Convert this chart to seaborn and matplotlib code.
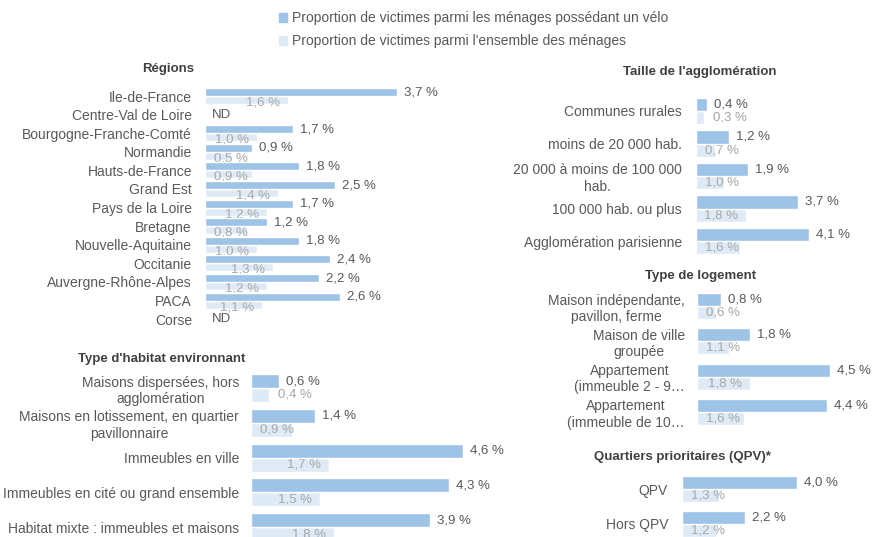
import numpy as np
import pandas as pd
import seaborn as sns
import matplotlib.pyplot as plt
from matplotlib.patches import Patch

sns.set_theme(style="white")
plt.rcParams['font.family'] = ['Liberation Sans', 'DejaVu Sans']

# données
series = ["Proportion de victimes parmi les ménages possédant un vélo",
          "Proportion de victimes parmi l'ensemble des ménages"]

regions = ["Ile-de-France", "Centre-Val de Loire", "Bourgogne-Franche-Comté", "Normandie",
           "Hauts-de-France", "Grand Est", "Pays de la Loire", "Bretagne", "Nouvelle-Aquitaine",
           "Occitanie", "Auvergne-Rhône-Alpes", "PACA", "Corse"]
reg_velo = [3.7, np.nan, 1.7, 0.9, 1.8, 2.5, 1.7, 1.2, 1.8, 2.4, 2.2, 2.6, np.nan]
reg_all = [1.6, np.nan, 1.0, 0.5, 0.9, 1.4, 1.2, 0.8, 1.0, 1.3, 1.2, 1.1, np.nan]

habitat = ["Maisons dispersées, hors\nagglomération",
           "Maisons en lotissement, en quartier\npavillonnaire",
           "Immeubles en ville", "Immeubles en cité ou grand ensemble",
           "Habitat mixte : immeubles et maisons"]
hab_velo = [0.6, 1.4, 4.6, 4.3, 3.9]
hab_all = [0.4, 0.9, 1.7, 1.5, 1.8]

taille = ["Communes rurales", "moins de 20 000 hab.", "20 000 à moins de 100 000\nhab.",
          "100 000 hab. ou plus", "Agglomération parisienne"]
taille_velo = [0.4, 1.2, 1.9, 3.7, 4.1]
taille_all = [0.3, 0.7, 1.0, 1.8, 1.6]

logement = ["Maison indépendante,\npavillon, ferme", "Maison de ville\ngroupée",
            "Appartement\n(immeuble 2 - 9…", "Appartement\n(immeuble de 10…"]
log_velo = [0.8, 1.8, 4.5, 4.4]
log_all = [0.6, 1.1, 1.8, 1.6]

qpv = ["QPV", "Hors QPV"]
qpv_velo = [4.0, 2.2]
qpv_all = [1.3, 1.2]

# style
dark = "#9DC3E6"
light = "#DEEBF7"
txt = "#595959"
txt_light = "#A6A6A6"
W, H = 873, 537

fig = plt.figure(figsize=(W / 100, H / 100), dpi=100)


def fmt(v):
    return f"{v:.1f} %".replace(".", ",")


def panel(cats, velo, allm, rect, xmax, width, pad, title, title_xy):
    left, top, w, h = rect
    ax = fig.add_axes([left / W, 1 - (top + h) / H, w / W, h / H])
    df = pd.DataFrame({
        "cat": cats * 2,
        "serie": [series[0]] * len(cats) + [series[1]] * len(cats),
        "val": list(velo) + list(allm),
    })
    sns.barplot(data=df, x="val", y="cat", hue="serie", order=cats, hue_order=series,
                palette=[dark, light], saturation=1, width=width, dodge=True,
                errorbar=None, legend=False, orient="h", ax=ax)
    ax.set_xlim(0, xmax)
    ax.set_facecolor("none")
    for s in ax.spines.values():
        s.set_visible(False)
    ax.set_xticks([])
    ax.set_xlabel("")
    ax.set_ylabel("")
    ax.tick_params(axis="y", length=0, pad=pad * 0.72, labelsize=10, labelcolor=txt)
    for lab in ax.get_yticklabels():
        lab.set_multialignment("center")

    scale = w / xmax  # px par %
    row_px = h / len(cats)
    cont_dark, cont_light = ax.containers[0], ax.containers[1]
    for b in cont_light:
        b.set_zorder(1)
    for b in cont_dark:
        b.set_zorder(3)

    for b in cont_dark:
        v = b.get_width()
        if np.isnan(v):
            continue
        yc = b.get_y() + b.get_height() / 2
        ax.annotate(fmt(v), (v, yc), xytext=(7 * 0.72, 0), textcoords="offset points",
                    ha="left", va="center", fontsize=9.5, color=txt, zorder=4)
    # étiquettes claires un peu plus bas si les barres sont fines
    dy = -2.5 * 0.72 if row_px < 25 else 0
    for b in cont_light:
        v = b.get_width()
        if np.isnan(v):
            continue
        yc = b.get_y() + b.get_height() / 2
        blen = v * scale
        if blen >= 49:
            xy, off, ha = (v, yc), -8, "right"
        elif v < 0.5:
            xy, off, ha = (v, yc), 9, "left"
        else:
            xy, off, ha = (0, yc), 9, "left"
        ax.annotate(fmt(v), xy, xytext=(off * 0.72, dy), textcoords="offset points",
                    ha=ha, va="center", fontsize=9.5, color=txt_light, zorder=2)

    for i, (a, b) in enumerate(zip(velo, allm)):
        if np.isnan(a) and np.isnan(b):
            ax.annotate("ND", (0, i), xytext=(7 * 0.72, 0), textcoords="offset points",
                        ha="left", va="center", fontsize=9.5, color=txt, zorder=4)

    fig.text(title_xy[0] / W, 1 - title_xy[1] / H, title, ha="center", va="center",
             fontsize=9.5, fontweight="bold", color="#404040")
    return ax


panel(regions, reg_velo, reg_all, (205, 86.7, 239, 241.8), 4.6, 0.86, 13,
      "Régions", (168, 69))
panel(habitat, hab_velo, hab_all, (251, 370.6, 230, 174), 5, 0.80, 12,
      "Type d'habitat environnant", (162, 359))
panel(taille, taille_velo, taille_all, (696, 94.75, 138, 162.5), 5, 0.83, 14,
      "Taille de l'agglomération", (700, 72))
panel(logement, log_velo, log_all, (697, 288.4, 147.5, 141.2), 5, 0.74, 12,
      "Type de logement", (701, 276))
panel(qpv, qpv_velo, qpv_all, (682, 471.5, 143.5, 70), 5, 0.75, 14,
      "Quartiers prioritaires (QPV)*", (682, 457))

handles = [Patch(color=dark), Patch(color=light)]
leg = fig.legend(handles, series, loc="upper left", bbox_to_anchor=(279 / W, 1 - 11 / H),
                 frameon=False, fontsize=10, handlelength=0.6, handleheight=0.6,
                 handletextpad=0.35, labelspacing=0.65, borderpad=0, borderaxespad=0)
for t in leg.get_texts():
    t.set_color(txt)

fig.savefig("out.png", dpi=100)
